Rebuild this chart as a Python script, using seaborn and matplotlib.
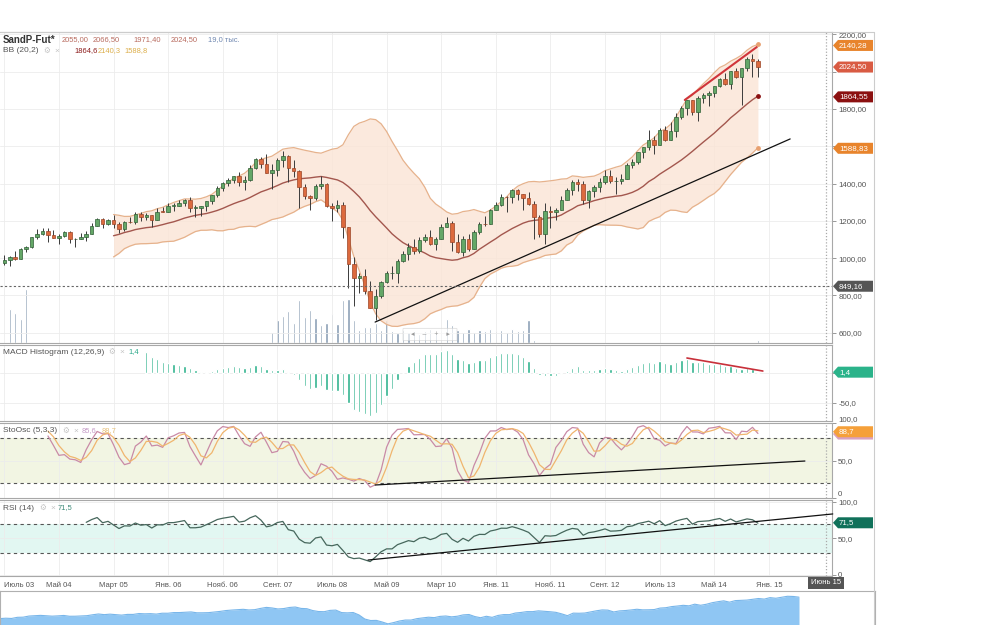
import numpy as np
import pandas as pd
import matplotlib
matplotlib.use("Agg")
import matplotlib.pyplot as plt
from matplotlib.patches import Polygon, FancyBboxPatch
import seaborn as sns

sns.set_style("white")
plt.rcParams['font.family'] = ['Liberation Sans', 'DejaVu Sans']

# ---------------- data (monthly, Jul 2003 .. Jan 2015) ----------------
opens = [975, 990, 1008, 996, 1051, 1058, 1112, 1131, 1145, 1126,
         1107, 1121, 1141, 1102, 1104, 1115, 1130, 1174, 1212, 1181,
         1204, 1181, 1157, 1192, 1191, 1234, 1220, 1229, 1207, 1249,
         1248, 1280, 1281, 1295, 1311, 1270, 1270, 1277, 1304, 1336,
         1378, 1401, 1418, 1438, 1407, 1421, 1482, 1531, 1503, 1455,
         1474, 1527, 1549, 1481, 1468, 1379, 1331, 1323, 1386, 1400,
         1280, 1267, 1283, 1166, 969, 896, 903, 826, 735, 798,
         873, 919, 919, 987, 1021, 1057, 1036, 1096, 1115, 1074,
         1104, 1169, 1187, 1089, 1031, 1102, 1049, 1141, 1183, 1181,
         1258, 1286, 1327, 1326, 1364, 1345, 1321, 1292, 1219, 1131,
         1253, 1247, 1258, 1312, 1366, 1408, 1398, 1310, 1362, 1379,
         1407, 1441, 1412, 1416, 1426, 1498, 1515, 1569, 1597, 1631,
         1606, 1686, 1633, 1682, 1757, 1806, 1848, 1783, 1859, 1872,
         1884, 1924, 1960, 1931, 2003, 1972, 2018, 2068, 2055]
highs = [1015, 1011, 1040, 1054, 1063, 1112, 1155, 1159, 1163, 1150,
         1128, 1146, 1146, 1109, 1132, 1143, 1188, 1217, 1217, 1212,
         1229, 1192, 1200, 1220, 1245, 1246, 1244, 1233, 1270, 1276,
         1295, 1297, 1311, 1318, 1326, 1285, 1280, 1306, 1340, 1389,
         1407, 1431, 1441, 1461, 1438, 1499, 1535, 1540, 1556, 1503,
         1538, 1576, 1552, 1524, 1471, 1396, 1340, 1397, 1440, 1404,
         1293, 1314, 1303, 1167, 1007, 919, 944, 876, 833, 878,
         930, 956, 996, 1040, 1080, 1101, 1113, 1130, 1150, 1112,
         1181, 1220, 1200, 1131, 1121, 1130, 1149, 1196, 1228, 1263,
         1303, 1344, 1333, 1370, 1371, 1346, 1357, 1307, 1230, 1293,
         1277, 1270, 1334, 1378, 1420, 1422, 1415, 1364, 1392, 1427,
         1475, 1470, 1434, 1449, 1510, 1531, 1570, 1598, 1687, 1654,
         1699, 1710, 1730, 1776, 1813, 1849, 1850, 1867, 1884, 1897,
         1925, 1968, 1991, 2005, 2019, 2019, 2076, 2093, 2066.5]
lows = [962, 960, 988, 996, 1031, 1056, 1105, 1124, 1087, 1106,
        1076, 1113, 1079, 1060, 1102, 1090, 1128, 1173, 1164, 1180,
        1163, 1137, 1146, 1188, 1183, 1201, 1205, 1168, 1202, 1246,
        1245, 1253, 1277, 1280, 1245, 1219, 1224, 1253, 1291, 1327,
        1360, 1385, 1403, 1389, 1364, 1416, 1476, 1484, 1454, 1371,
        1439, 1490, 1407, 1435, 1270, 1316, 1257, 1314, 1373, 1272,
        1200, 1248, 1106, 840, 741, 815, 805, 735, 667, 784,
        866, 888, 869, 978, 992, 1020, 1029, 1086, 1071, 1045,
        1101, 1167, 1040, 1029, 1011, 1040, 1049, 1131, 1174, 1181,
        1257, 1282, 1249, 1294, 1311, 1258, 1283, 1101, 1114, 1075,
        1159, 1202, 1258, 1311, 1340, 1358, 1292, 1267, 1325, 1354,
        1396, 1403, 1343, 1398, 1426, 1485, 1502, 1536, 1581, 1560,
        1605, 1627, 1633, 1647, 1746, 1767, 1770, 1737, 1834, 1815,
        1863, 1915, 1930, 1905, 1964, 1821, 2002, 1972, 1971.4]
closes = [990, 1008, 996, 1051, 1058, 1112, 1131, 1145, 1126, 1107,
          1121, 1141, 1102, 1104, 1115, 1130, 1174, 1212, 1181, 1204,
          1181, 1157, 1192, 1191, 1234, 1220, 1229, 1207, 1249, 1248,
          1280, 1281, 1295, 1311, 1270, 1270, 1277, 1304, 1336, 1378,
          1401, 1418, 1438, 1407, 1421, 1482, 1531, 1503, 1455, 1474,
          1527, 1549, 1481, 1468, 1379, 1331, 1323, 1386, 1400, 1280,
          1267, 1283, 1166, 969, 896, 903, 826, 735, 798, 873,
          919, 919, 987, 1021, 1057, 1036, 1096, 1115, 1074, 1104,
          1169, 1187, 1089, 1031, 1102, 1049, 1141, 1183, 1181, 1258,
          1286, 1327, 1326, 1364, 1345, 1321, 1292, 1219, 1131, 1253,
          1247, 1258, 1312, 1366, 1408, 1398, 1310, 1362, 1379, 1407,
          1441, 1412, 1416, 1426, 1498, 1515, 1569, 1597, 1631, 1606,
          1686, 1633, 1682, 1757, 1806, 1848, 1783, 1859, 1872, 1884,
          1924, 1960, 1931, 2003, 1972, 2018, 2068, 2059, 2024.5]
# volume, thousand contracts (None = not available)
volumes = [None, 214, 189, 151, 340, None, None, None, None, None,
           None, None, None, None, None, None, None, None, None, None,
           None, None, None, None, None, None, None, None, None, None,
           None, None, None, None, None, None, None, None, None, None,
           None, None, None, None, None, None, None, None, None, 69,
           145, 170, 202, 126, 271, 164, 208, 158, 113, 126,
           183, 120, 271, 277, 145, 82, 101, 101, 126, 82,
           145, 76, 63, 82, 69, 76, 57, 76, 88, 69,
           82, 151, 113, 82, 69, 88, 69, 82, 76, 88,
           76, 82, 69, 88, 76, 82, 145, 19, None, None,
           None, None, None, None, None, None, None, None, None, None,
           None, None, None, None, None, None, None, None, None, None,
           None, None, None, None, None, None, None, None, None, None,
           None, None, None, None, None, None, None, None, 19]

tick_labels = ["Июль 03", "Май 04", "Март 05", "Янв. 06", "Нояб. 06", "Сент. 07",
               "Июль 08", "Май 09", "Март 10", "Янв. 11", "Нояб. 11", "Сент. 12",
               "Июль 13", "Май 14", "Янв. 15"]
tick_index = [0, 10, 20, 30, 40, 50, 60, 70, 80, 90, 100, 110, 120, 130, 140]
cursor_index = 150.5
cursor_label = "Июнь 15"
cursor_price = 849.16

price_ticks = [600, 800, 1000, 1200, 1400, 1600, 1800, 2000, 2200]
price_tick_text = ["600,00", "800,00", "1000,00", "1200,00", "1400,00", "", "1800,00", "", "2200,00"]

# trend lines drawn by the user (index, value)
trend_price_black = ([67.9, 143.9], [657, 1639])
trend_price_red = ([124.6, 137.8], [1848, 2132])
trend_macd_red = ([125.0, 138.9], [25, 3.3])
trend_sto_black = ([67.9, 146.6], [17.4, 49.5])
trend_rsi_black = ([66.6, 151.7], [20.5, 83.6])

# right-hand value tags (value, text, colour)
main_tags = [(2140.28, "2140,28", "#e8842c"), (2024.50, "2024,50", "#d95b43"),
             (1864.55, "1864,55", "#8b1010"), (1588.83, "1588,83", "#e8842c"),
             (849.16, "849,16", "#555555")]
macd_tag = (1.4, "1,4", "#2bb38a")
sto_tags = [(85.6, "", "#d9a0c0"), (88.7, "88,7", "#f5a03a")]
rsi_tag = (71.5, "71,5", "#10715a")

# ---------------- indicators ----------------
n = len(closes)
x = np.arange(n)
o = np.array(opens, float); h = np.array(highs, float)
l = np.array(lows, float); c = np.array(closes, float)
cs = pd.Series(c)
mid = cs.rolling(20).mean()
sd = cs.rolling(20).std(ddof=0)
upper = mid + 2 * sd
lower = mid - 2 * sd

ema12 = cs.ewm(span=12, adjust=False).mean()
ema26 = cs.ewm(span=26, adjust=False).mean()
macd = (ema12 - ema26).where(cs.index >= 26, 0.0)
signal = macd.ewm(span=9, adjust=False).mean()
hist = (macd - signal)

hh = pd.Series(h).rolling(5).max()
ll = pd.Series(l).rolling(5).min()
kfast = 100 * (cs - ll) / (hh - ll)
kslow = kfast.rolling(3).mean()
dline = kslow.rolling(3).mean()

delta = cs.diff()
gain = delta.clip(lower=0).values
loss = (-delta.clip(upper=0)).values
rsi = np.full(n, np.nan)
ag = np.mean(gain[1:15]); al = np.mean(loss[1:15])
rsi[14] = 100 - 100 / (1 + ag / al)
for i in range(15, n):
    ag = (ag * 13 + gain[i]) / 14
    al = (al * 13 + loss[i]) / 14
    rsi[i] = 100 - 100 / (1 + ag / al)

# ---------------- layout helpers ----------------
W, H = 1000, 625
fig = plt.figure(figsize=(10, 6.25), dpi=100)
fig.patch.set_facecolor("white")


def rect(lft, top, rgt, bot):
    return [lft / W, 1 - bot / H, (rgt - lft) / W, (bot - top) / H]


def ftext(px, py, s, **kw):
    kw.setdefault("va", "center")
    kw.setdefault("ha", "left")
    kw.setdefault("fontsize", 6.0)
    return fig.text(px / W, 1 - py / H, s, **kw)


XLIM = (-0.787, 151.56)
GRID = "#ececec"
SPINE = "#a8a8a8"
FS_TICK = 5.7
FS_LAB = 6.0
FS_NUM = 5.4

ax_vol = fig.add_axes(rect(0, 32, 832, 343))
ax = fig.add_axes(rect(0, 32, 832, 343))
ax_m = fig.add_axes(rect(0, 345, 832, 421))
ax_s = fig.add_axes(rect(0, 423, 832, 498))
ax_r = fig.add_axes(rect(0, 500, 832, 576))
ax_n = fig.add_axes(rect(0, 591, 875, 625))

for a in (ax_vol, ax, ax_m, ax_s, ax_r):
    a.set_xlim(*XLIM)

# ---------------- volume ----------------
ax_vol.axis("off")
ax_vol.set_ylim(0, 311 * 6.3)
vx = [i for i, v in enumerate(volumes) if v is not None]
vv = [v for v in volumes if v is not None]
ax_vol.bar(vx, vv, width=0.42, color="#8b9fb5", zorder=1)

# ---------------- main price panel ----------------
ax.patch.set_alpha(0)
ax.set_ylim(544.8, 2212.4)
ax.set_xticks(tick_index)
ax.set_yticks(price_ticks)
ax.grid(True, color=GRID, lw=0.6, zorder=0)
ax.set_axisbelow(True)
bb_start = 20
xb = x[bb_start:]
ax.fill_between(xb, lower[bb_start:], upper[bb_start:], color="#fbe4d5", alpha=0.8, lw=0, zorder=1)
sns.lineplot(x=xb, y=upper[bb_start:].values, ax=ax, color="#e6b28c", lw=0.9, legend=False, zorder=2)
sns.lineplot(x=xb, y=lower[bb_start:].values, ax=ax, color="#e6b28c", lw=0.9, legend=False, zorder=2)
sns.lineplot(x=xb, y=mid[bb_start:].values, ax=ax, color="#a3574e", lw=1.0, legend=False, zorder=2)

green = c >= o
fc = np.where(green, "#64a767", "#dc6a3e")
ec = np.where(green, "#2f5f36", "#9a4426")
ax.vlines(x, l, h, color="#3a3a3a", lw=0.7, zorder=3)
body_b = np.minimum(o, c)
body_h = np.maximum(np.abs(c - o), 3.0)
ax.bar(x, body_h, bottom=body_b, width=0.64, color=fc, edgecolor=ec, linewidth=0.5, zorder=4)

ax.plot(*trend_price_black, color="#111111", lw=0.9, zorder=5)
ax.plot(*trend_price_red, color="#d0343a", lw=1.5, zorder=5)
ax.scatter([n - 1], [upper.iloc[-1]], s=6, color="#e8a070", zorder=6)
ax.scatter([n - 1], [mid.iloc[-1]], s=6, color="#8b1010", zorder=6)
ax.scatter([n - 1], [lower.iloc[-1]], s=6, color="#e8a070", zorder=6)
ax.axhline(cursor_price, color="#666666", lw=0.8, ls=(0, (2, 2)), zorder=5)

# ---------------- MACD ----------------
ax_m.set_ylim(-80, 46.7)
ax_m.set_xticks(tick_index)
ax_m.set_yticks([-50, 0])
ax_m.grid(True, color=GRID, lw=0.6)
ax_m.set_axisbelow(True)
hx = x[26:]
ax_m.bar(hx, hist.values[26:], width=0.42, color="#2fb38d", zorder=2)
ax_m.plot(*trend_macd_red, color="#c8303a", lw=1.2, zorder=3)

# ---------------- Stochastic ----------------
ax_s.set_ylim(0, 100.4)
ax_s.set_xticks(tick_index)
ax_s.set_yticks([0, 50, 100])
ax_s.grid(True, color=GRID, lw=0.6)
ax_s.set_axisbelow(True)
ax_s.axhspan(20, 80, color="#f2f5e3", lw=0, zorder=0.5)
ax_s.axhline(80, color="#555555", lw=0.8, ls=(0, (3, 3)), zorder=1)
ax_s.axhline(20, color="#555555", lw=0.8, ls=(0, (3, 3)), zorder=1)
sx = x[8:]
sns.lineplot(x=sx, y=kslow.values[8:], ax=ax_s, color="#c98aa6", lw=0.9, legend=False, zorder=2)
sns.lineplot(x=sx, y=dline.values[8:], ax=ax_s, color="#f0b56e", lw=0.9, legend=False, zorder=2)
ax_s.plot(*trend_sto_black, color="#111111", lw=0.9, zorder=3)

# ---------------- RSI ----------------
ax_r.set_ylim(-1.37, 102.7)
ax_r.set_xticks(tick_index)
ax_r.set_yticks([0, 50, 100])
ax_r.grid(True, color=GRID, lw=0.6)
ax_r.set_axisbelow(True)
ax_r.axhspan(30, 70, color="#e2f7f2", lw=0, zorder=0.5)
ax_r.axhline(70, color="#555555", lw=0.8, ls=(0, (3, 3)), zorder=1)
ax_r.axhline(30, color="#555555", lw=0.8, ls=(0, (3, 3)), zorder=1)
rx = x[15:]
sns.lineplot(x=rx, y=rsi[15:], ax=ax_r, color="#46675c", lw=0.9, legend=False, zorder=2)
ax_r.plot(*trend_rsi_black, color="#111111", lw=0.9, zorder=3, clip_on=False)

# ---------------- common styling ----------------
ax.set_yticklabels(price_tick_text)
ax_m.set_yticklabels(["-50,0", ""])
ax_s.set_yticklabels(["0", "50,0", "100,0"])
ax_r.set_yticklabels(["0", "50,0", "100,0"])
for a in (ax, ax_m, ax_s, ax_r):
    a.yaxis.tick_right()
    a.tick_params(axis="y", labelsize=FS_TICK, labelcolor="#555555", color="#888888",
                  length=3, width=0.6, pad=1.5, direction="out")
    a.axvline(cursor_index, color="#aaaaaa", lw=0.9, ls=(0, (1, 1.5)), zorder=6)
    for s in ("top", "bottom", "right"):
        a.spines[s].set_color(SPINE)
        a.spines[s].set_linewidth(0.8)
    a.spines["left"].set_visible(False)
sl = ax_s.get_yticklabels()
sl[0].set_va("bottom")
sl[2].set_va("bottom")
for a in (ax, ax_m, ax_s):
    a.tick_params(axis="x", length=0, labelbottom=False)
ax_r.set_xticklabels(tick_labels)
ax_r.tick_params(axis="x", labelsize=5.5, labelcolor="#555555", color="#888888",
                 length=3, width=0.6, pad=1.0, direction="out")
ax_r.get_xticklabels()[0].set_ha("left")
ax_r.get_xticklabels()[0].set_x(-0.6)

# ---------------- navigator ----------------
ax_n.set_xlim(0, 138 * 875 / 799)
ax_n.set_ylim(680, 2323)
ax_n.fill_between(x, 680, c, color="#8fc6f3", lw=0)
sns.lineplot(x=x, y=c, ax=ax_n, color="#78b6ea", lw=0.8, legend=False)
ax_n.set_xticks([]); ax_n.set_yticks([])
for s in ("top", "left", "right"):
    ax_n.spines[s].set_color("#b0b0b0")
    ax_n.spines[s].set_linewidth(0.8)
ax_n.spines["bottom"].set_visible(False)

# outer frame
fig.add_artist(plt.Line2D([0, 874 / W], [1 - 32 / H, 1 - 32 / H], color="#cccccc", lw=0.8))
fig.add_artist(plt.Line2D([874 / W, 874 / W], [0, 1 - 32 / H], color="#cccccc", lw=0.8))


# ---------------- value tags ----------------
def tag(a, value, text, color):
    yd = a.transData.transform((0, value))[1]
    yp = H - yd
    pts = [(833, yp), (838, yp - 5.5), (873, yp - 5.5), (873, yp + 5.5), (838, yp + 5.5)]
    pts = [(px / W, 1 - py / H) for px, py in pts]
    fig.add_artist(Polygon(pts, closed=True, transform=fig.transFigure, fc=color, ec="none", zorder=10))
    if text:
        t = ftext(839, yp, text, color="white", fontsize=FS_TICK)
        t.set_zorder(11)


for v, t, col in main_tags:
    tag(ax, v, t, col)
tag(ax_m, *macd_tag)
for v, t, col in sto_tags:
    tag(ax_s, v, t, col)
tag(ax_r, *rsi_tag)

# cursor date label
ftext(826, 583, cursor_label, color="white", ha="center", fontsize=5.5,
      bbox=dict(boxstyle="square,pad=0.35", fc="#555555", ec="none"), zorder=12)

# small zoom toolbar overlay
fig.add_artist(FancyBboxPatch((404 / W, 1 - 340 / H), 52 / W, 11 / H,
                              boxstyle="round,pad=0.001", transform=fig.transFigure,
                              fc="white", ec="#cccccc", lw=0.6, alpha=0.6, zorder=8))
ftext(430, 334.5, "◂    –    +    ▸", color="#999999", ha="center", fontsize=5, zorder=9)

# ---------------- legends ----------------
GEAR = "#c4c4c4"
ftext(3, 40, "SandP-Fut*", color="#333333", fontsize=7, fontweight="bold")
for px, s in zip([62, 93, 133, 171], ["2055,00", "2066,50", "1971,40", "2024,50"]):
    ftext(px, 40, s, color="#b86a5e", fontsize=FS_NUM)
ftext(208, 40, "19,0 тыс.", color="#6f87b0", fontsize=FS_NUM)
ftext(3, 51, "BB (20,2)", color="#555555", fontsize=FS_LAB)
ftext(43, 51, "⚙", color=GEAR, fontsize=5.5)
ftext(54, 51, "×", color=GEAR, fontsize=FS_LAB)
ftext(74, 51, "1864,6", color="#8b1a1a", fontsize=FS_NUM)
ftext(98, 51, "2140,3", color="#dcae4a", fontsize=FS_NUM)
ftext(124, 51, "1588,8", color="#dcae4a", fontsize=FS_NUM)

ftext(3, 352, "MACD Histogram (12,26,9)", color="#555555", fontsize=FS_LAB)
ftext(108, 352, "⚙", color=GEAR, fontsize=5.5)
ftext(119, 352, "×", color=GEAR, fontsize=FS_LAB)
ftext(128, 352, "1,4", color="#2aa889", fontsize=FS_NUM)

ftext(3, 431, "StoOsc (5,3,3)", color="#555555", fontsize=FS_LAB)
ftext(62, 431, "⚙", color=GEAR, fontsize=5.5)
ftext(73, 431, "×", color=GEAR, fontsize=FS_LAB)
ftext(82, 431, "85,6", color="#c49ac6", fontsize=FS_NUM)
ftext(102, 431, "88,7", color="#e6c07a", fontsize=FS_NUM)

ftext(3, 508, "RSI (14)", color="#555555", fontsize=FS_LAB)
ftext(39, 508, "⚙", color=GEAR, fontsize=5.5)
ftext(50, 508, "×", color=GEAR, fontsize=FS_LAB)
ftext(58, 508, "71,5", color="#3d8a78", fontsize=FS_NUM)

fig.savefig("out.png", dpi=100, facecolor="white")
